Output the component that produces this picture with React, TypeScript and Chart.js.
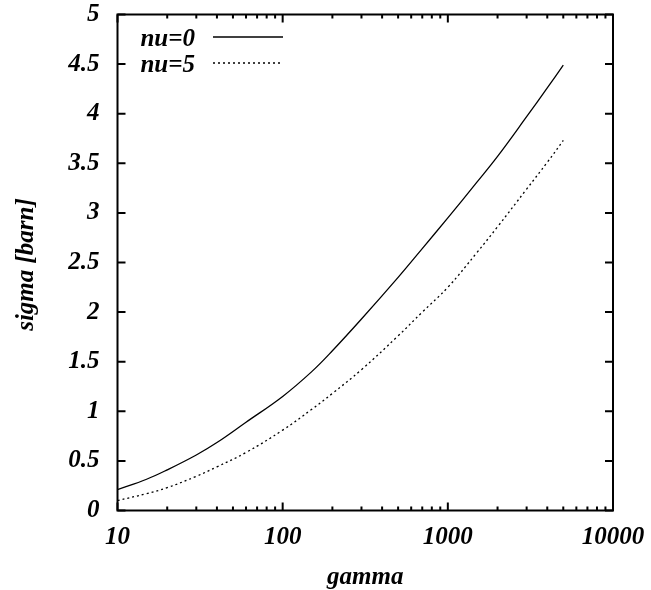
import React, { useEffect, useRef } from "react";
import { Chart, registerables } from "chart.js";

Chart.register(...registerables);

const gammaValues = [10, 15, 20, 30, 40, 60, 100, 150, 200, 300, 500, 700, 1000, 1500, 2000, 3000, 4000, 5000];
const sigmaNu0 = [0.21, 0.315, 0.41, 0.56, 0.685, 0.89, 1.15, 1.4, 1.61, 1.93, 2.35, 2.64, 2.95, 3.31, 3.57, 3.97, 4.26, 4.49];
const sigmaNu5 = [0.1, 0.17, 0.23, 0.345, 0.44, 0.585, 0.81, 1.02, 1.18, 1.42, 1.76, 2.0, 2.25, 2.6, 2.86, 3.24, 3.51, 3.73];
const seriesLabels = ["nu=0", "nu=5"];
const xTickValues = [10, 100, 1000, 10000];
const yTickStep = 0.5;
const xAxisTitle = "gamma";
const yAxisTitle = "sigma [barn]";

const FONT_FAMILY = "'Times New Roman', 'Liberation Serif', Times, serif";
const FONT_SIZE = 25;
const fontCss = `italic bold ${FONT_SIZE}px ${FONT_FAMILY}`;

const gnuplotPlugin = {
  id: "gnuplotFrame",
  afterDatasetsDraw(chart: any) {
    const { ctx, chartArea: a, scales } = chart;
    const x = scales.x;
    const y = scales.y;
    ctx.save();
    ctx.strokeStyle = "#000";
    ctx.lineWidth = 2;
    ctx.strokeRect(a.left, a.top, a.right - a.left, a.bottom - a.top);

    // x ticks (log, major + minor), inward on bottom and top
    ctx.beginPath();
    for (let d = xTickValues[0]; d < xTickValues[xTickValues.length - 1]; d *= 10) {
      for (let m = 1; m <= 10; m++) {
        const v = d * m;
        const len = m === 1 || m === 10 ? 8 : 4;
        const px = x.getPixelForValue(v);
        ctx.moveTo(px, a.bottom);
        ctx.lineTo(px, a.bottom - len);
        ctx.moveTo(px, a.top);
        ctx.lineTo(px, a.top + len);
      }
    }
    // y ticks inward on left and right
    for (let v = y.min; v <= y.max + 1e-9; v += yTickStep) {
      const py = y.getPixelForValue(v);
      ctx.moveTo(a.left, py);
      ctx.lineTo(a.left + 8, py);
      ctx.moveTo(a.right, py);
      ctx.lineTo(a.right - 8, py);
    }
    ctx.stroke();

    // axis titles
    ctx.fillStyle = "#000";
    ctx.font = fontCss;
    ctx.textAlign = "center";
    ctx.textBaseline = "alphabetic";
    ctx.fillText(xAxisTitle, (a.left + a.right) / 2, 584);
    ctx.save();
    ctx.translate(33, (a.top + a.bottom) / 2 + 2);
    ctx.rotate(-Math.PI / 2);
    ctx.fillText(yAxisTitle, 0, 0);
    ctx.restore();

    // legend
    const ds = chart.data.datasets;
    const rows = [45.5, 71.5];
    ds.forEach((d: any, i: number) => {
      const base = rows[i];
      ctx.textAlign = "right";
      ctx.fillText(d.label, 195, base);
      ctx.beginPath();
      ctx.lineWidth = d.borderWidth;
      ctx.setLineDash(d.borderDash || []);
      ctx.moveTo(213, base - 8.5);
      ctx.lineTo(283, base - 8.5);
      ctx.stroke();
      ctx.setLineDash([]);
    });
    ctx.restore();
  },
};

export default function App() {
  const ref = useRef<HTMLCanvasElement | null>(null);

  useEffect(() => {
    if (!ref.current) return;
    const tickFont = { family: FONT_FAMILY, size: FONT_SIZE, weight: "bold" as const, style: "italic" as const };
    const chart = new Chart(ref.current, {
      type: "line",
      data: {
        datasets: [
          {
            label: seriesLabels[0],
            data: gammaValues.map((g, i) => ({ x: g, y: sigmaNu0[i] })),
            borderColor: "#000",
            borderWidth: 1.3,
            pointRadius: 0,
            fill: false,
            tension: 0.4,
          },
          {
            label: seriesLabels[1],
            data: gammaValues.map((g, i) => ({ x: g, y: sigmaNu5[i] })),
            borderColor: "#000",
            borderWidth: 1.3,
            borderDash: [2, 3],
            pointRadius: 0,
            fill: false,
            tension: 0.4,
          },
        ],
      },
      options: {
        animation: false,
        responsive: false,
        devicePixelRatio: 1,
        layout: { padding: { top: 14.5, right: 38, bottom: 0, left: 0 } },
        plugins: { legend: { display: false }, tooltip: { enabled: false } },
        scales: {
          x: {
            type: "logarithmic",
            min: xTickValues[0],
            max: xTickValues[xTickValues.length - 1],
            grid: { display: false, drawTicks: false },
            border: { display: false },
            ticks: {
              font: tickFont,
              color: "#000",
              padding: 12,
              autoSkip: false,
              maxRotation: 0,
              callback: (v: any) => String(v),
            },
            afterBuildTicks: (s: any) => {
              s.ticks = xTickValues.map((v) => ({ value: v }));
            },
            afterFit: (s: any) => {
              s.height = 79.5;
              s.paddingLeft = 0;
              s.paddingRight = 0;
            },
          },
          y: {
            min: 0,
            max: 5,
            grid: { display: false, drawTicks: false },
            border: { display: false },
            ticks: {
              stepSize: yTickStep,
              font: tickFont,
              color: "#000",
              padding: 18,
              autoSkip: false,
              callback: (v: any) => String(Number(v)),
            },
            afterFit: (s: any) => {
              s.width = 117.5;
              s.paddingTop = 0;
              s.paddingBottom = 0;
            },
          },
        },
      },
      plugins: [gnuplotPlugin],
    });
    return () => chart.destroy();
  }, []);

  return (
    <div style={{ position: "absolute", left: 0, top: 0, width: 651, height: 590, background: "#fff" }}>
      <canvas ref={ref} width={651} height={590} style={{ display: "block" }} />
    </div>
  );
}
